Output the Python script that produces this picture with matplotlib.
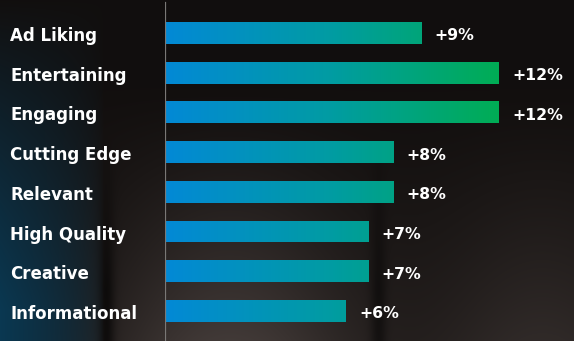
import numpy as np
import matplotlib
matplotlib.use("Agg")
import matplotlib.pyplot as plt
from matplotlib.colors import LinearSegmentedColormap
from matplotlib.patches import Rectangle

# data
categories = ["Ad Liking", "Entertaining", "Engaging", "Cutting Edge",
              "Relevant", "High Quality", "Creative", "Informational"]
values = [9.2, 12.0, 12.0, 8.2, 8.2, 7.3, 7.3, 6.5]
value_labels = ["+9%", "+12%", "+12%", "+8%", "+8%", "+7%", "+7%", "+6%"]

W, H = 574, 341
fig = plt.figure(figsize=(W / 100, H / 100), dpi=100)

# dark photographic backdrop, rough approximation
bg_ax = fig.add_axes([0, 0, 1, 1])
bg_ax.set_axis_off()
xs = np.linspace(0, 1, W)
ys = np.linspace(0, 1, H)[:, None]  # 0 top, 1 bottom
base = np.array([0.07, 0.058, 0.055])
warm = np.array([0.30, 0.265, 0.255])
img = np.ones((H, W, 3)) * base
# lighter lower band in the middle
light = np.clip((ys - 0.25) / 0.75, 0, 1) ** 1.2
light = light * (np.exp(-((xs - 0.40) / 0.24) ** 2) * 0.95 + np.exp(-((xs - 0.95) / 0.22) ** 2) * 0.6)
img = img + (warm - base) * light[..., None] * 0.85
# dark vertical bands
dark = np.exp(-((xs - 0.185) / 0.014) ** 2) * 0.6 + np.exp(-((xs - 0.66) / 0.014) ** 2) * 0.45
dark = dark * np.clip((ys - 0.4) / 0.45, 0, 1)
img = img * (1 - dark[..., None])
# teal glow on the left
teal = np.array([0.04, 0.22, 0.32])
tmask = np.clip(1 - xs / 0.18, 0, 1) ** 0.6 * np.clip(ys * 1.1, 0, 1) ** 0.9
img = img * (1 - tmask[..., None]) + teal * tmask[..., None]
bg_ax.imshow(np.clip(img, 0, 1), aspect="auto", extent=[0, 1, 0, 1])
bg_ax.set_xlim(0, 1)
bg_ax.set_ylim(0, 1)

# bar axes
x0 = 165
ax = fig.add_axes([x0 / W, 0, 1 - x0 / W, 1])
ax.patch.set_alpha(0)
unit = 27.83  # px per percentage point
xmax = (W - x0) / unit
step = 39.7
ylim = ((H - 33) / step, -33 / step)
for s in ax.spines.values():
    s.set_visible(False)
ax.set_xticks([])
ax.set_yticks([])

cmap = LinearSegmentedColormap.from_list("bar", ["#0389d6", "#019ca2", "#00ad55"])
grad = np.linspace(0, 1, 256)[None, :]
ypos = np.arange(len(categories))
h = 0.55
for yy, v in zip(ypos, values):
    im = ax.imshow(grad, cmap=cmap, aspect="auto",
                   extent=[0, 12, yy + h / 2, yy - h / 2], interpolation="bilinear")
    clip = Rectangle((0, yy - h / 2), v, h, transform=ax.transData)
    im.set_clip_path(clip)
ax.barh(ypos, values, height=h, color="none", edgecolor="none")
ax.set_xlim(0, xmax)
ax.set_ylim(*ylim)

ax.axvline(0, ymin=0, ymax=(H - 3) / H, color="#7a7876", lw=1.6)

font = dict(family="DejaVu Sans", weight="bold", color="white", fontsize=12)
for yy, v, lab, cat in zip(ypos, values, value_labels, categories):
    ax.annotate(lab, (v, yy), xytext=(13, -7.5), textcoords="offset pixels",
                ha="left", va="baseline", **{**font, "fontsize": 11.3})
    ax.annotate(cat, (0, yy), xytext=(10 - x0, -8), textcoords="offset pixels",
                xycoords=("axes fraction", "data"), ha="left", va="baseline", **font)

fig.savefig("out.png", dpi=100)
